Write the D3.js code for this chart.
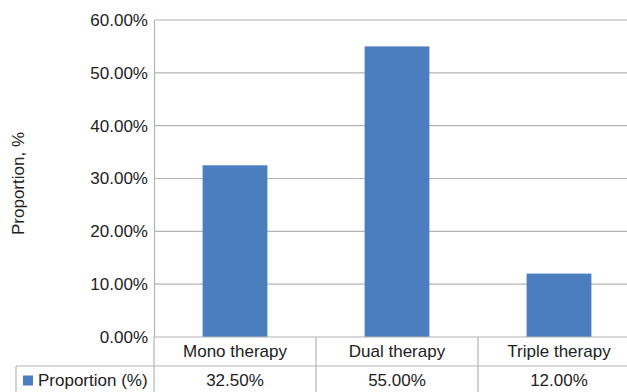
<!DOCTYPE html>
<html>
<head>
<meta charset="utf-8">
<script src="https://cdn.jsdelivr.net/npm/d3@7"></script>
<style>
  html, body { margin: 0; padding: 0; background: #fff; overflow: hidden; }
  svg { display: block; font-family: "Liberation Sans", Arial, Helvetica, sans-serif; }
</style>
</head>
<body>
<svg id="chart" width="627" height="392"></svg>
<script>
// Therapy regimen shares
const categories = ["Mono therapy", "Dual therapy", "Triple therapy"];
const values = [32.5, 55.0, 12.0];
const seriesName = "Proportion (%)";
const yTicks = [0, 10, 20, 30, 40, 50, 60];
const yTitle = "Proportion, %";

const svg = d3.select("#chart");
const textColor = "#222";
const gridColor = "#b4b4b4";
const barColor = "#4a7ebf";
const fontSize = 17;

const plotLeft = 154, plotTop = 20, plotBottom = 337;
const bandW = 162;
const plotRight = plotLeft + bandW * categories.length;
const tableLeft = 16, rowH = 29;

const x = d3.scaleBand().domain(categories).range([plotLeft, plotRight]).paddingInner(0.6).paddingOuter(0.3);
const xCell = d3.scaleBand().domain(categories).range([plotLeft, plotRight]);
const y = d3.scaleLinear().domain([0, 60]).range([plotBottom, plotTop]);

// horizontal gridlines
svg.append("g")
  .selectAll("line")
  .data(yTicks.filter(d => d > 0))
  .join("line")
  .attr("x1", plotLeft).attr("x2", plotRight)
  .attr("y1", d => y(d)).attr("y2", d => y(d))
  .attr("stroke", gridColor).attr("stroke-width", 1.2);

// y axis
const yAxis = d3.axisLeft(y)
  .tickValues(yTicks)
  .tickSize(0)
  .tickPadding(6)
  .tickFormat(d => d3.format(".2f")(d) + "%");
const gy = svg.append("g").attr("transform", `translate(${plotLeft},0)`).call(yAxis);
gy.select(".domain").attr("stroke", gridColor).attr("stroke-width", 1.2);
gy.selectAll("text")
  .attr("fill", textColor)
  .style("font-size", fontSize + "px")
  .style("font-family", "'Liberation Sans', Arial, sans-serif");

// bars
svg.append("g")
  .selectAll("rect")
  .data(values)
  .join("rect")
  .attr("x", (d, i) => x(categories[i]))
  .attr("width", x.bandwidth())
  .attr("y", d => y(d))
  .attr("height", d => y(0) - y(d))
  .attr("fill", barColor);

// data table under the axis
const table = svg.append("g");
const lineAttrs = sel => sel.attr("stroke", gridColor).attr("stroke-width", 1.2);
// baseline / top of the table
table.append("line").call(lineAttrs)
  .attr("x1", plotLeft).attr("x2", plotRight).attr("y1", plotBottom).attr("y2", plotBottom);
// row separator
table.append("line").call(lineAttrs)
  .attr("x1", tableLeft).attr("x2", plotRight).attr("y1", plotBottom + rowH).attr("y2", plotBottom + rowH);
// left edge of legend cell
table.append("line").call(lineAttrs)
  .attr("x1", tableLeft).attr("x2", tableLeft).attr("y1", plotBottom + rowH).attr("y2", plotBottom + 2 * rowH + 5);
// column separators
table.selectAll("line.col")
  .data(categories)
  .join("line").attr("class", "col").call(lineAttrs)
  .attr("x1", d => xCell(d)).attr("x2", d => xCell(d))
  .attr("y1", plotBottom).attr("y2", plotBottom + 2 * rowH + 5);

// category names
table.selectAll("text.cat")
  .data(categories)
  .join("text").attr("class", "cat")
  .attr("x", d => xCell(d) + xCell.bandwidth() / 2)
  .attr("y", plotBottom + rowH / 2)
  .attr("dy", "0.35em")
  .attr("text-anchor", "middle")
  .attr("fill", textColor)
  .style("font-size", fontSize + "px")
  .text(d => d);

// values row
table.selectAll("text.val")
  .data(values)
  .join("text").attr("class", "val")
  .attr("x", (d, i) => xCell(categories[i]) + xCell.bandwidth() / 2)
  .attr("y", plotBottom + rowH * 1.5)
  .attr("dy", "0.35em")
  .attr("text-anchor", "middle")
  .attr("fill", textColor)
  .style("font-size", fontSize + "px")
  .text(d => d3.format(".2f")(d) + "%");

// legend key in the table
table.append("rect")
  .attr("x", 23).attr("y", plotBottom + rowH * 1.5 - 5)
  .attr("width", 10).attr("height", 10)
  .attr("fill", barColor);
table.append("text")
  .attr("x", 38).attr("y", plotBottom + rowH * 1.5)
  .attr("dy", "0.35em")
  .attr("fill", textColor)
  .style("font-size", fontSize + "px")
  .text(seriesName);

// y axis title
svg.append("text")
  .attr("transform", `translate(24,${(plotTop + plotBottom) / 2 + 5}) rotate(-90)`)
  .attr("text-anchor", "middle")
  .attr("fill", textColor)
  .style("font-size", fontSize + "px")
  .text(yTitle);
</script>
</body>
</html>
